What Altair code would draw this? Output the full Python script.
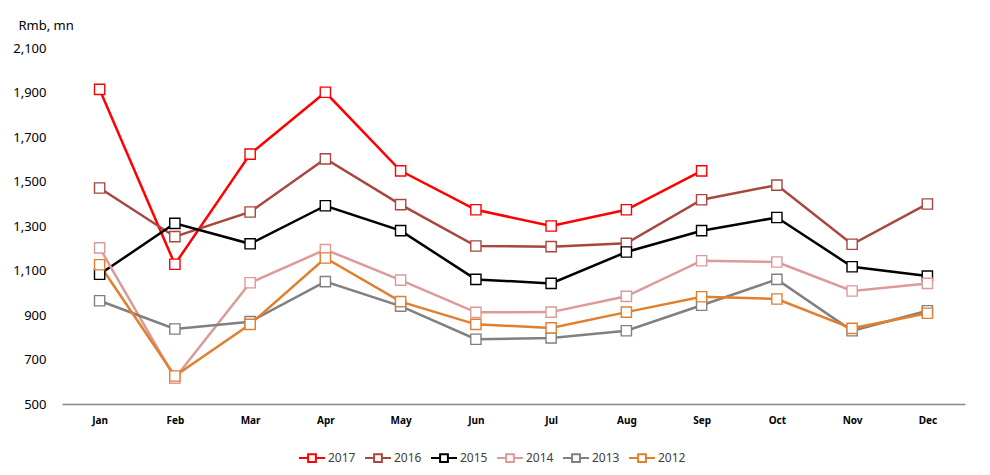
import altair as alt
import pandas as pd

months = ["Jan", "Feb", "Mar", "Apr", "May", "Jun", "Jul", "Aug", "Sep", "Oct", "Nov", "Dec"]
years = ["2017", "2016", "2015", "2014", "2013", "2012"]
colors = ["#FF0000", "#A9473F", "#000000", "#DC9A98", "#808080", "#E07F2F"]

v2017 = [1914, 1128, 1623, 1901, 1548, 1373, 1300, 1373, 1548, None, None, None]
v2016 = [1471, 1252, 1363, 1602, 1396, 1210, 1207, 1222, 1418, 1484, 1218, 1399]
v2015 = [1083, 1312, 1220, 1391, 1279, 1060, 1042, 1183, 1279, 1338, 1117, 1075]
v2014 = [1202, 616, 1045, 1194, 1057, 912, 913, 984, 1144, 1138, 1008, 1042]
v2013 = [964, 837, 870, 1050, 940, 791, 797, 829, 944, 1060, 829, 919]
v2012 = [1126, 626, 858, 1156, 960, 858, 842, 913, 982, 972, 840, 908]

series = dict(zip(years, [v2017, v2016, v2015, v2014, v2013, v2012]))
rows = []
for order, y in enumerate(years):
    for i, (m, v) in enumerate(zip(months, series[y])):
        if v is not None:
            rows.append({"month": m, "mi": i, "year": y, "value": v, "order": order})
df = pd.DataFrame(rows)

FONT = "Noto Sans"
legend_path = "M-1,0 L-0.3,0 M-0.3,-0.3 L0.3,-0.3 L0.3,0.3 L-0.3,0.3 Z M0.3,0 L1,0"

x = alt.X("month:N", sort=months, scale=alt.Scale(type="point", padding=0.5),
          axis=alt.Axis(title=None, labelAngle=0, labelFontWeight="bold", labelFontSize=10,
                        labelColor="#000000", labelFont=FONT, ticks=False, labelPadding=11,
                        domainColor="#868686", domainWidth=1.3))
y = alt.Y("value:Q", scale=alt.Scale(domain=[500, 2100], nice=False, zero=False),
          axis=alt.Axis(values=list(range(500, 2101, 200)), format=",d", grid=False, domain=False,
                        ticks=False, labelPadding=16, labelFontSize=13, labelFont=FONT,
                        labelColor="#000000", title="Rmb, mn", titleAngle=0, titleAlign="left",
                        titleBaseline="middle", titleX=-44, titleY=-23, titleFontWeight="normal",
                        titleFontSize=13, titleFont=FONT, titleColor="#000000"))
color = alt.Color("year:N", scale=alt.Scale(domain=years, range=colors),
                  legend=alt.Legend(title=None, orient="none", direction="horizontal",
                                    legendX=236, legendY=396, symbolType=legend_path,
                                    symbolSize=676, symbolStrokeWidth=2, labelFontSize=12,
                                    labelFont=FONT, labelColor="#404040", columnPadding=5,
                                    labelOffset=2))

lines = alt.Chart(df).mark_line(strokeWidth=2.5).encode(
    x=x, y=y, color=color, detail="year:N", order=alt.Order("mi:Q"))
points = alt.Chart(df).mark_point(shape="square", size=105, filled=False, fill="white",
                                  fillOpacity=1, strokeWidth=1.4, opacity=1).encode(
    x=x, y=y, stroke=alt.Stroke("year:N", scale=alt.Scale(domain=years, range=colors), legend=None))

chart = alt.layer(lines, points).properties(
    width=903, height=356,
    autosize=alt.AutoSizeParams(type="none"),
    padding={"left": 54, "top": 40, "right": 10, "bottom": 70},
).configure_view(stroke=None)

chart.save("out.html", embed_options={"renderer": "svg", "actions": False})
